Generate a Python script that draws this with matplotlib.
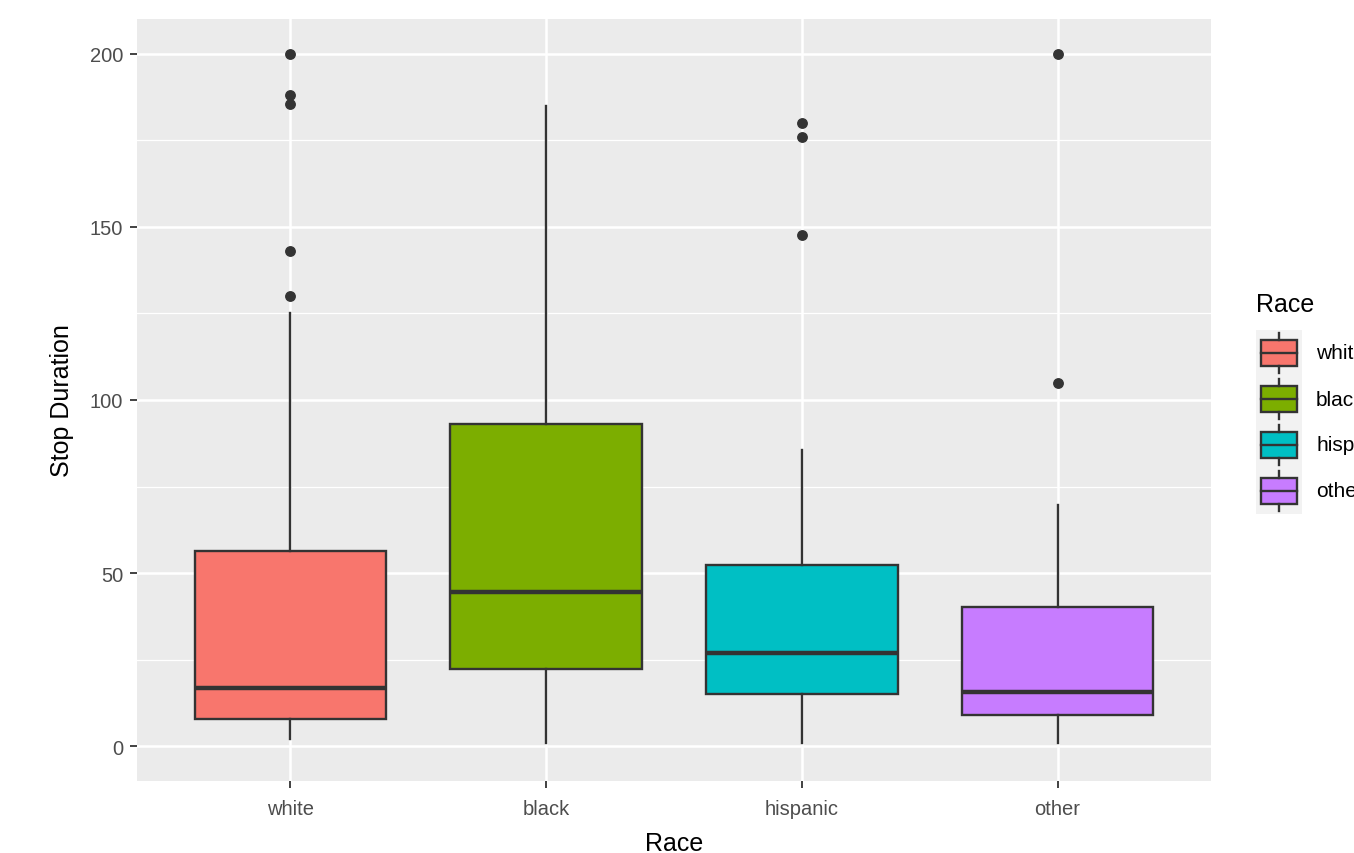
import matplotlib.pyplot as plt
from matplotlib.patches import Rectangle

plt.rcParams['font.family'] = ['Liberation Sans', 'DejaVu Sans']

# data
races = ["white", "black", "hispanic", "other"]
colors = ["#F8766D", "#7CAE00", "#00BFC4", "#C77CFF"]
whisker_low = [2, 1, 1, 1]
q1 = [7.8, 22.3, 15.0, 9.0]
median = [16.8, 44.5, 26.9, 15.6]
q3 = [56.4, 93.1, 52.3, 40.2]
whisker_high = [125, 185, 85.5, 69.7]
outliers = [
    [130, 143, 185.5, 188, 200],
    [],
    [147.7, 176, 180],
    [105, 200],
]

fig = plt.figure(figsize=(13.54, 8.54), dpi=100)
ax = fig.add_axes([137 / 1354, 72 / 854, 1074 / 1354, 762 / 854])
ax.set_facecolor("#EBEBEB")

stats = []
for i, r in enumerate(races):
    stats.append(dict(label=r, whislo=whisker_low[i], q1=q1[i], med=median[i],
                      q3=q3[i], whishi=whisker_high[i], fliers=outliers[i]))

edge = "#333333"
bp = ax.bxp(stats, positions=range(1, 5), widths=0.75, patch_artist=True,
            showcaps=False,
            boxprops=dict(edgecolor=edge, linewidth=1.7),
            whiskerprops=dict(color=edge, linewidth=1.7),
            medianprops=dict(color=edge, linewidth=3.2),
            flierprops=dict(marker="o", markerfacecolor=edge, markeredgecolor=edge,
                            markersize=6.8))
for patch, c in zip(bp["boxes"], colors):
    patch.set_facecolor(c)
for artist in bp["boxes"] + bp["whiskers"] + bp["medians"] + bp["fliers"]:
    artist.set_zorder(3)

ax.set_xlim(0.4, 4.6)
ax.set_ylim(-10, 210)
ax.set_yticks([0, 50, 100, 150, 200])
ax.set_yticks([25, 75, 125, 175], minor=True)
ax.set_xticks(range(1, 5))
ax.set_xticklabels(races)
ax.grid(True, which="major", color="white", linewidth=1.8, zorder=0)
ax.grid(True, which="minor", axis="y", color="white", linewidth=0.9, zorder=0)
ax.set_axisbelow(True)
for s in ax.spines.values():
    s.set_visible(False)
ax.tick_params(axis="both", which="major", length=5, width=1.3, color=edge,
               labelsize=14.5, labelcolor="#4D4D4D", pad=5)
ax.tick_params(axis="x", which="major", pad=8)
ax.tick_params(axis="both", which="minor", length=0)
ax.set_xlabel("Race", fontsize=18, labelpad=9)
ax.set_ylabel("Stop Duration", fontsize=18, labelpad=11)

# legend (cut off at the right edge, as in the original)
fig.text(1256 / 1354, 1 - 305 / 854, "Race", fontsize=18, va="center", ha="left")
key_h = 46
for i, (r, c) in enumerate(zip(races, colors)):
    cy = 354 + i * key_h
    kax = fig.add_axes([1256 / 1354, 1 - (cy + key_h / 2) / 854, 46 / 1354, key_h / 854])
    kax.set_xlim(0, 1)
    kax.set_ylim(0, 1)
    kax.axis("off")
    kax.add_patch(Rectangle((0, 0), 1, 1, facecolor="#F2F2F2", edgecolor="none"))
    kax.plot([0.5, 0.5], [0.06, 0.22], color=edge, lw=1.7)
    kax.plot([0.5, 0.5], [0.78, 0.94], color=edge, lw=1.7)
    kax.add_patch(Rectangle((0.1, 0.22), 0.8, 0.56, facecolor=c, edgecolor=edge, lw=1.7))
    kax.plot([0.1, 0.9], [0.5, 0.5], color=edge, lw=1.7)
    fig.text(1316 / 1354, 1 - cy / 854, r, fontsize=15, va="center", ha="left")

fig.savefig("out.png", dpi=100)
